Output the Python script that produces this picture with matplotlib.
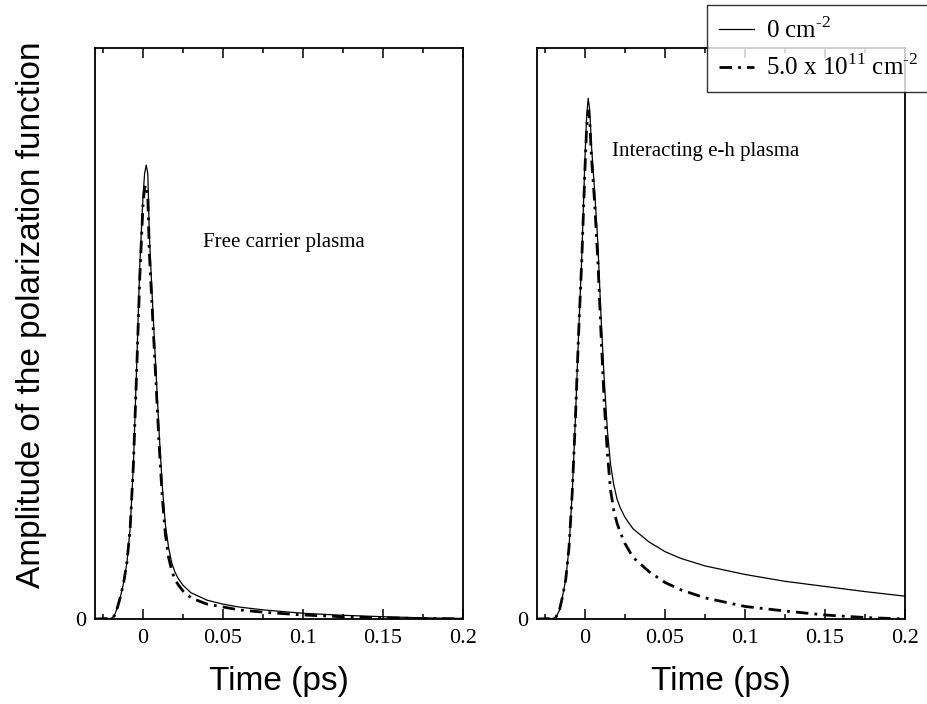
import matplotlib.pyplot as plt
from matplotlib.ticker import MultipleLocator

# Time samples (ps), denser around the pulse peak.
time_ps = [
    -0.03, -0.02, -0.018, -0.016, -0.014, -0.012, -0.010, -0.008, -0.006,
    -0.004, -0.002, 0.0, 0.001, 0.002, 0.003, 0.004, 0.006, 0.008, 0.010,
    0.012, 0.014, 0.016, 0.018, 0.020, 0.022, 0.025, 0.03, 0.04, 0.05, 0.06,
    0.075, 0.1, 0.125, 0.15, 0.175, 0.2,
]

# Free carrier plasma (left panel)
free_zero = [
    0.0, 0.001, 0.005, 0.02, 0.04, 0.065, 0.10, 0.16, 0.27,
    0.44, 0.62, 0.74, 0.78, 0.795, 0.78, 0.67, 0.55, 0.44, 0.33,
    0.235, 0.165, 0.125, 0.098, 0.082, 0.071, 0.059, 0.046, 0.033, 0.026, 0.021,
    0.016, 0.010, 0.0065, 0.004, 0.002, 0.001,
]
free_dense = [
    0.0, 0.001, 0.005, 0.02, 0.04, 0.065, 0.10, 0.16, 0.27,
    0.43, 0.60, 0.725, 0.755, 0.76, 0.74, 0.64, 0.53, 0.42, 0.31,
    0.215, 0.148, 0.108, 0.084, 0.069, 0.060, 0.049, 0.037, 0.026, 0.021, 0.016,
    0.012, 0.007, 0.004, 0.002, 0.001, 0.0,
]

# Interacting e-h plasma (right panel)
inter_zero = [
    0.0, 0.001, 0.004, 0.015, 0.04, 0.07, 0.125, 0.22, 0.35,
    0.50, 0.635, 0.81, 0.88, 0.912, 0.89, 0.83, 0.75, 0.66, 0.53,
    0.42, 0.33, 0.27, 0.235, 0.21, 0.195, 0.178, 0.158, 0.135, 0.118, 0.106,
    0.093, 0.078, 0.066, 0.057, 0.048, 0.040,
]
inter_dense = [
    0.0, 0.001, 0.004, 0.015, 0.04, 0.07, 0.125, 0.22, 0.35,
    0.50, 0.63, 0.79, 0.86, 0.89, 0.87, 0.81, 0.73, 0.63, 0.50,
    0.38, 0.29, 0.225, 0.19, 0.168, 0.152, 0.132, 0.108, 0.083, 0.064, 0.051,
    0.037, 0.022, 0.014, 0.007, 0.0026, 0.0,
]

x_ticks = [0, 0.05, 0.1, 0.15, 0.2]
x_tick_labels = ["0", "0.05", "0.1", "0.15", "0.2"]
legend_labels = [r"0 cm$^{\text{-}2}$", r"5.0 x 10$^{11}$ cm$^{\text{-}2}$"]

SERIF = "Liberation Serif"
SANS = "Liberation Sans"
plt.rcParams["mathtext.fontset"] = "custom"
plt.rcParams["mathtext.rm"] = SERIF

DASHDOT = (0, (4.5, 2.2, 1.0, 2.2))

fig = plt.figure(figsize=(9.27, 7.04), dpi=100)
ax_left = fig.add_axes([95 / 927, 85 / 704, 368 / 927, 571 / 704])
ax_right = fig.add_axes([537 / 927, 85 / 704, 368 / 927, 571 / 704])

panels = [
    (ax_left, free_zero, free_dense, "Free carrier plasma", (0.0377, 0.651)),
    (ax_right, inter_zero, inter_dense, "Interacting e-h plasma", (0.0169, 0.81)),
]

for ax, solid_vals, dash_vals, note, note_pos in panels:
    ax.plot(time_ps, solid_vals, color="black", lw=0.9, label=legend_labels[0])
    ax.plot(time_ps, dash_vals, color="black", lw=2.0, linestyle=DASHDOT,
            label=legend_labels[1])
    ax.set_xlim(-0.03, 0.2)
    ax.set_ylim(0, 1.0)
    ax.set_xticks(x_ticks)
    ax.set_xticklabels(x_tick_labels, fontfamily=SERIF, fontsize=16)
    ax.xaxis.set_minor_locator(MultipleLocator(0.025))
    ax.tick_params(axis="x", which="major", direction="in", length=7,
                   width=1.1, top=True, pad=7)
    ax.tick_params(axis="x", which="minor", direction="in", length=3.5,
                   width=1.1, top=True)
    ax.set_yticks([0])
    ax.set_yticklabels(["0"], fontfamily=SERIF, fontsize=16)
    ax.tick_params(axis="y", length=0, pad=6)
    for spine in ax.spines.values():
        spine.set_linewidth(1.3)
    ax.text(note_pos[0], note_pos[1], note, fontfamily=SERIF, fontsize=15)
    ax.set_xlabel("Time (ps)", fontfamily=SANS, fontsize=24)
    ax.xaxis.set_label_coords(0.5, -0.082)

ax_left.set_ylabel("Amplitude of the polarization function",
                   fontfamily=SANS, fontsize=24)
ax_left.yaxis.set_label_coords(-0.13, 0.532)

handles, labels = ax_right.get_legend_handles_labels()
leg = fig.legend(handles, labels, loc="upper left",
                 bbox_to_anchor=(707 / 927, 1 - 5 / 704),
                 prop={"family": SERIF, "size": 18}, frameon=True,
                 fancybox=False, handlelength=1.4, borderpad=0.48,
                 labelspacing=0.48, handletextpad=0.5, borderaxespad=0)
leg.get_frame().set_edgecolor("black")
leg.get_frame().set_linewidth(1.0)

fig.savefig("out.png", dpi=100)
